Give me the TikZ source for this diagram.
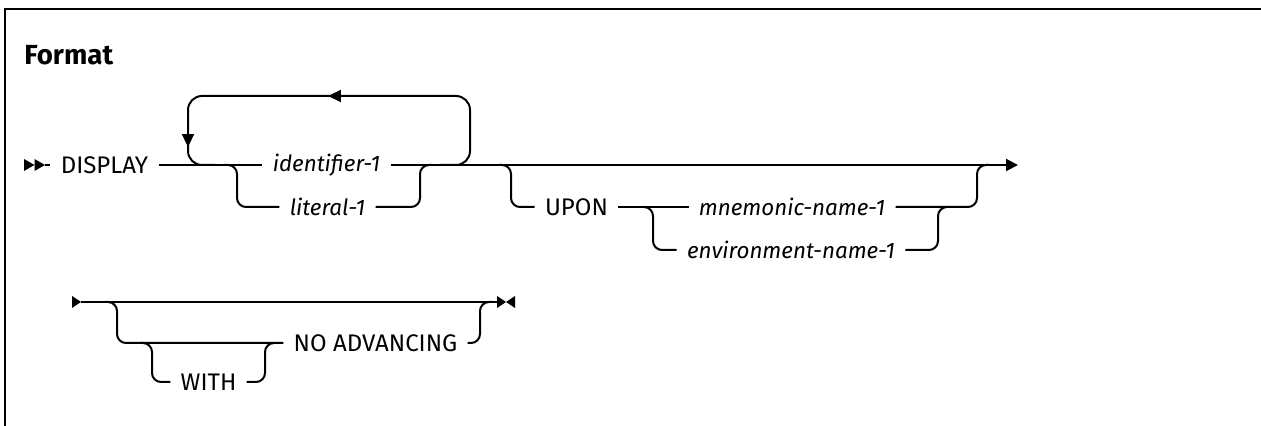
\documentclass[tikz,border=0pt]{standalone}
\usepackage{fontspec}
\setmainfont{Fira Sans}
\usetikzlibrary{arrows.meta,decorations.markings}

\begin{document}
\begin{tikzpicture}[
  x=0.5pt, y=-0.5pt,
  rail/.style={line width=1pt, rounded corners=4.5pt},
  repeatline/.style={line width=1pt, rounded corners=7pt},
  frame/.style={line width=1.3pt},
  kw/.style={font=\fontsize{12}{14}\selectfont, inner xsep=5pt, inner ysep=0pt},
  var/.style={kw, font=\fontsize{11.2}{13}\selectfont\itshape},
  title/.style={font=\fontsize{13.8}{16}\selectfont\bfseries, inner sep=0pt, anchor=base west},
  tip/.style={-{Triangle[length=6pt,width=6pt]}},
  backarrows/.style={postaction={decorate}, decoration={markings,
    mark=at position 114.5pt with {\arrow{Triangle[length=6.5pt,width=6pt]}},
    mark=at position 207pt with {\arrow{Triangle[length=6.5pt,width=6pt]}}}}
]
  \useasboundingbox (0,0) rectangle (1261,426);
  \draw[frame] (5,440) -- (5,9) -- (1300,9);
  \node[title] (fmt) at (24,65) {Format};

  % first line
  \coordinate (l1start) at (45,165);
  \coordinate (l1end) at (1018,165);
  \fill (l1start) ++(-21,-6) -- ++(10.5,6) -- ++(-10.5,6) -- cycle;
  \fill (l1start) ++(-10.5,-6) -- ++(10.5,6) -- ++(-10.5,6) -- cycle;
  \node[kw] (display) at (104.5,165) {DISPLAY};
  \node[var] (ident) at (326.5,165) {identifier-1};
  \node[var] (literal) at (327.5,207) {literal-1};
  \node[kw] (upon) at (576.5,207) {UPON};
  \node[var] (mnem) at (792,207) {mnemonic-name-1};
  \node[var] (envname) at (791,250) {environment-name-1};

  \draw[rail] (l1start) -- (display.west);
  \draw[rail] (display.east) -- (ident.west);
  \draw[rail, tip] (ident.east) -- (l1end);

  \coordinate (litsplit) at (237,165);
  \coordinate (litjoin) at (420,165);
  \draw[rail] ([xshift=-6pt]litsplit) -- (litsplit) |- (literal.west);
  \draw[rail] (literal.east) -| (litjoin) -- ([xshift=6pt]litjoin);

  \coordinate (loopL) at (188,96);
  \coordinate (loopbr) at (470,165);
  \coordinate (loopbl) at (188,165);
  \draw[repeatline, backarrows] ([xshift=-15pt]loopbr) -- (loopbr) |- (loopL)
    -- (loopbl) -- ([xshift=13.5pt]loopbl);

  \coordinate (uponsplit) at (511,165);
  \coordinate (uponjoin) at (977,165);
  \draw[rail] ([xshift=-6pt]uponsplit) -- (uponsplit) |- (upon.west);
  \draw[rail] (upon.east) -- (mnem.west);
  \draw[rail] (mnem.east) -| (uponjoin) -- ([xshift=6pt]uponjoin);

  \coordinate (envsplit) at (653,207);
  \coordinate (envjoin) at (938,207);
  \draw[rail] ([xshift=-5pt]envsplit) -- (envsplit) |- (envname.west);
  \draw[rail] (envname.east) -| (envjoin) -- ([xshift=5pt]envjoin);

  % second line
  \coordinate (l2start) at (81,302);
  \coordinate (l2end) at (497,302);
  \fill (l2start) ++(-9,-6) -- ++(9,6) -- ++(-9,6) -- cycle;
  \fill (l2end) ++(0,-6) -- ++(9,6) -- ++(-9,6) -- cycle;
  \fill (l2end) ++(18,-6) -- ++(-9,6) -- ++(9,6) -- cycle;
  \node[kw] (noadv) at (375.5,343) {NO ADVANCING};
  \node[kw] (with) at (208.5,382) {WITH};
  \draw[rail] (l2start) -- (l2end);

  \coordinate (advsplit) at (117,302);
  \coordinate (advjoin) at (480,302);
  \draw[rail] ([xshift=-6pt]advsplit) -- (advsplit) |- (noadv.west);
  \draw[rail] (noadv.east) -| (advjoin) -- ([xshift=6pt]advjoin);

  \coordinate (withsplit) at (152,343);
  \coordinate (withjoin) at (265,343);
  \draw[rail] ([xshift=-6pt]withsplit) -- (withsplit) |- (with.west);
  \draw[rail] (with.east) -| (withjoin) -- ([xshift=5pt]withjoin);
\end{tikzpicture}
\end{document}
